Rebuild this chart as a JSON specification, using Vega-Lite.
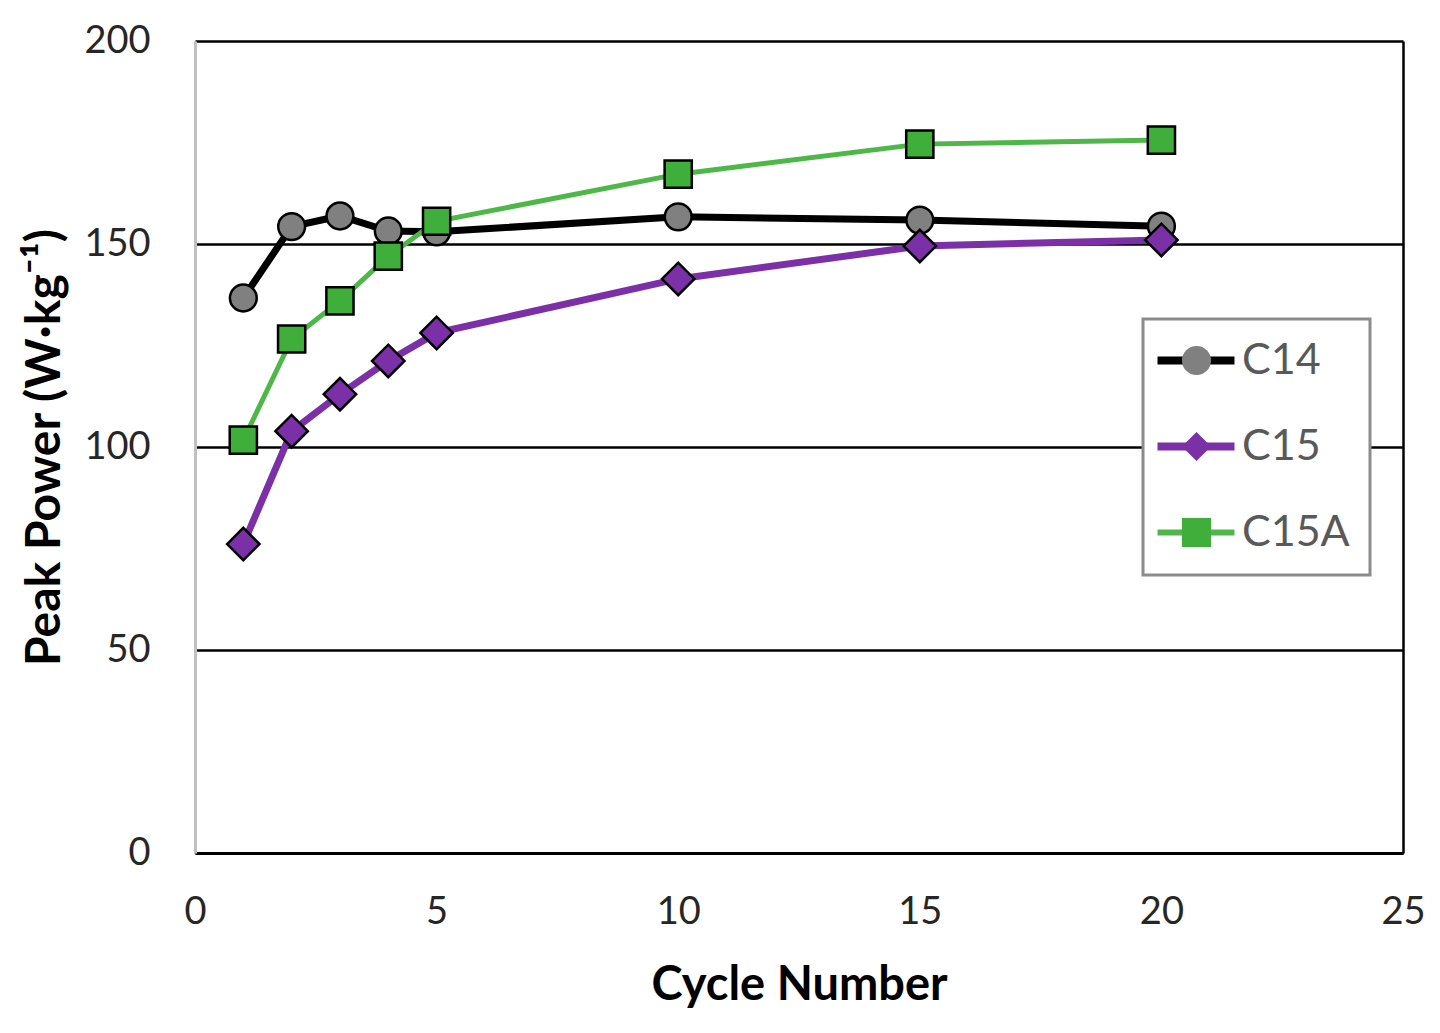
{
  "$schema": "https://vega.github.io/schema/vega-lite/v6.json",
  "width": 1208,
  "height": 812,
  "autosize": {"type": "none"},
  "padding": {"left": 195, "top": 41, "right": 37, "bottom": 180},
  "background": "white",
  "config": {
    "font": "Lato",
    "view": {"stroke": null},
    "legend": {"strokeWidth": 3}
  },
  "data": {
    "values": [
      {"series": "C14", "cycle": 1, "power": 136.7},
      {"series": "C14", "cycle": 2, "power": 154.3},
      {"series": "C14", "cycle": 3, "power": 156.9},
      {"series": "C14", "cycle": 4, "power": 153.2},
      {"series": "C14", "cycle": 5, "power": 153.0},
      {"series": "C14", "cycle": 10, "power": 156.7},
      {"series": "C14", "cycle": 15, "power": 155.9},
      {"series": "C14", "cycle": 20, "power": 154.4},
      {"series": "C15", "cycle": 1, "power": 76.1},
      {"series": "C15", "cycle": 2, "power": 103.9},
      {"series": "C15", "cycle": 3, "power": 113.0},
      {"series": "C15", "cycle": 4, "power": 121.2},
      {"series": "C15", "cycle": 5, "power": 128.1},
      {"series": "C15", "cycle": 10, "power": 141.4},
      {"series": "C15", "cycle": 15, "power": 149.5},
      {"series": "C15", "cycle": 20, "power": 151.0},
      {"series": "C15A", "cycle": 1, "power": 101.7},
      {"series": "C15A", "cycle": 2, "power": 126.6},
      {"series": "C15A", "cycle": 3, "power": 136.0},
      {"series": "C15A", "cycle": 4, "power": 147.0},
      {"series": "C15A", "cycle": 5, "power": 155.6},
      {"series": "C15A", "cycle": 10, "power": 167.2},
      {"series": "C15A", "cycle": 15, "power": 174.6},
      {"series": "C15A", "cycle": 20, "power": 175.6}
    ]
  },
  "layer": [
    {
      "transform": [{"filter": "datum.series !== 'C15A'"}],
      "mark": {"type": "line", "strokeWidth": 7},
      "encoding": {
        "x": {
          "field": "cycle", "type": "quantitative",
          "scale": {"domain": [0, 25], "nice": false},
          "axis": {
            "title": "Cycle Number", "titleFontSize": 47, "titleFontWeight": "bold", "titleColor": "black", "titlePadding": 31,
            "labelFontSize": 38, "labelColor": "#262626", "labelPadding": 40, "labelFlush": false,
            "ticks": false, "domain": true, "domainColor": "black", "domainWidth": 3, "grid": false,
            "values": [0, 5, 10, 15, 20, 25]
          }
        },
        "y": {
          "field": "power", "type": "quantitative",
          "scale": {"domain": [0, 200], "nice": false},
          "axis": {
            "title": "Peak Power (W·kg⁻¹)", "titleFontSize": 48, "titleFontWeight": "bold", "titleColor": "black", "titlePadding": 14,
            "labelFontSize": 38, "labelColor": "#262626", "labelPadding": 45, "labelFlush": false,
            "ticks": false, "domain": true, "domainColor": "#c0c0c0", "domainWidth": 3,
            "grid": true, "gridColor": "black", "gridWidth": 2.5,
            "values": [0, 50, 100, 150, 200]
          }
        },
        "stroke": {
          "field": "series", "type": "nominal",
          "scale": {"domain": ["C14", "C15", "C15A"], "range": ["#000000", "#7B30A8", "#4DB848"]},
          "legend": {
            "orient": "none", "legendX": 948, "legendY": 278, "title": null,
            "symbolType": "M-1.8,0H3.333", "symbolSize": 900, "symbolStrokeWidth": 7,
            "labelFontSize": 43, "labelColor": "#595959", "labelFont": "Lato", "labelOffset": 36,
            "rowPadding": 42, "padding": 20, "strokeColor": "#8c8c8c", "fillColor": "white", "zindex": 1,
            "encode": {"symbols": {"update": {"strokeWidth": {"signal": "datum.value === 'C15A' ? 6 : 8"}}}}
          }
        }
      }
    },
    {
      "transform": [{"filter": "datum.series === 'C15A'"}],
      "mark": {"type": "line", "strokeWidth": 5},
      "encoding": {
        "x": {"field": "cycle", "type": "quantitative"},
        "y": {"field": "power", "type": "quantitative", "axis": null},
        "stroke": {
          "field": "series", "type": "nominal",
          "scale": {"domain": ["C14", "C15", "C15A"], "range": ["#000000", "#7B30A8", "#4DB848"]},
          "legend": {
            "orient": "none", "legendX": 948, "legendY": 278, "title": null,
            "symbolType": "M-1.8,0H3.333", "symbolSize": 900, "symbolStrokeWidth": 7,
            "labelFontSize": 43, "labelColor": "#595959", "labelFont": "Lato", "labelOffset": 36,
            "rowPadding": 42, "padding": 20, "strokeColor": "#8c8c8c", "fillColor": "white", "zindex": 1,
            "encode": {"symbols": {"update": {"strokeWidth": {"signal": "datum.value === 'C15A' ? 6 : 8"}}}}
          }
        }
      }
    },
    {
      "mark": {"type": "point", "filled": true, "stroke": "black", "strokeWidth": 2.5, "opacity": 1},
      "encoding": {
        "x": {"field": "cycle", "type": "quantitative"},
        "y": {
          "field": "power", "type": "quantitative",
          "axis": {"orient": "right", "labels": false, "ticks": false, "grid": false, "domain": true, "domainColor": "black", "domainWidth": 2.5, "title": null}
        },
        "size": {
          "condition": [
            {"test": "datum.series === 'C14'", "value": 720},
            {"test": "datum.series === 'C15'", "value": 1050}
          ],
          "value": 740
        },
        "fill": {
          "field": "series", "type": "nominal",
          "scale": {"range": ["#808080", "#7B30A8", "#3FAE3A"]},
          "legend": {
            "orient": "none", "legendX": 960, "legendY": 278, "title": null,
            "symbolSize": 850, "symbolStrokeColor": "black", "symbolStrokeWidth": 2.5,
            "labelFontSize": 43, "labelOpacity": 0, "rowPadding": 42, "padding": 20,
            "strokeColor": null, "fillColor": null, "zindex": 2,
            "encode": {"symbols": {"update": {"stroke": {"value": "black"}, "strokeWidth": {"value": 2.5}, "opacity": {"value": 1}}}}
          }
        },
        "shape": {
          "field": "series", "type": "nominal",
          "scale": {"range": ["circle", "diamond", "square"]},
          "legend": {
            "orient": "none", "legendX": 960, "legendY": 278, "title": null,
            "symbolSize": 850, "symbolStrokeColor": "black", "symbolStrokeWidth": 2.5,
            "labelFontSize": 43, "labelOpacity": 0, "rowPadding": 42, "padding": 20,
            "strokeColor": null, "fillColor": null, "zindex": 2,
            "encode": {"symbols": {"update": {"stroke": {"value": "black"}, "strokeWidth": {"value": 2.5}, "opacity": {"value": 1}}}}
          }
        }
      }
    }
  ],
  "resolve": {"axis": {"y": "independent"}}
}
